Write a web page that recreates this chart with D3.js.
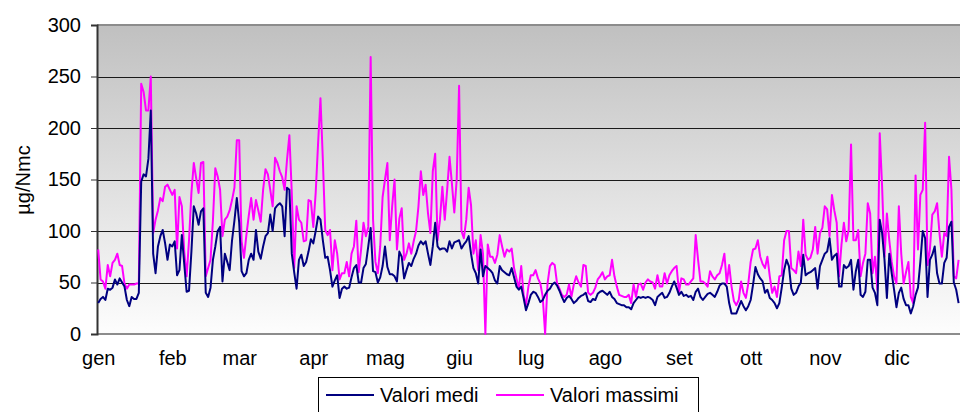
<!DOCTYPE html>
<html><head><meta charset="utf-8">
<script src="https://cdn.jsdelivr.net/npm/d3@7"></script>
<style>body{margin:0;background:#fff}svg{display:block;font-family:Arial,"Liberation Sans",sans-serif}</style>
</head><body><div id="chart"></div>
<script>
const monthLabels = ["gen","feb","mar","apr","mag","giu","lug","ago","set","ott","nov","dic"];
const monthStartDays = [0,31,59,90,120,151,181,212,243,273,304,334];
const daysInYear = 365;
const yTicks = [0,50,100,150,200,250,300];
const seriesNames = ["Valori medi","Valori massimi"];
const seriesColors = ["#000080","#ff00ff"];
// daily values, from 1 January (the visible part of the year)
const valoriMedi = [
30,34,36,33,44,43,45,53,48,54,
50,46,33,27,36,34,34,40,148,155,
153,170,217,78,59,85,95,101,88,72,
87,85,90,57,62,96,68,41,42,80,
124,117,106,119,122,40,36,45,72,
85,100,104,51,78,70,62,91,110,132,
108,61,56,59,72,78,72,101,80,73,
85,95,98,116,100,122,125,127,124,95,
142,140,78,60,44,72,77,66,70,80,
92,88,100,114,111,91,74,75,62,46,
52,57,35,44,46,44,45,55,64,67,
50,50,64,68,85,103,61,60,50,55,
66,85,65,58,58,56,51,80,75,54,
62,69,66,73,78,86,90,87,90,
78,67,85,108,85,82,83,83,80,90,
83,89,90,91,83,87,90,95,78,64,
59,49,82,56,66,64,62,59,52,49,
66,62,60,58,57,64,55,46,43,46,
35,23,30,38,41,40,36,31,33,38,
42,44,48,50,47,42,36,31,35,37,
34,30,32,35,37,38,40,32,31,34,
33,39,41,42,40,38,41,36,34,30,
29,28,28,26,26,24,30,33,36,35,
36,35,36,35,33,28,36,38,40,
35,36,40,46,51,45,38,41,37,38,
36,37,33,41,44,36,33,36,39,40,
38,36,41,47,49,49,46,30,20,20,
20,26,32,27,23,27,33,48,65,58,
54,51,40,43,35,33,30,25,30,45,
62,72,66,44,38,40,46,50,77,57,
59,60,62,64,44,66,72,78,80,93,
72,76,78,46,46,67,64,66,72,
43,61,72,38,36,41,72,72,45,40,
28,111,98,72,35,78,59,43,26,40,
45,34,28,28,20,27,38,45,70,100,
93,36,72,77,85,59,49,49,69,74,
104,109,50,43,30];
const valoriMassimi = [
82,53,51,44,67,56,69,72,78,67,
66,49,44,48,48,48,49,49,243,235,
217,217,250,98,111,120,132,129,143,145,
140,135,140,83,133,124,80,56,91,137,
166,151,137,166,167,56,64,72,110,
161,153,140,95,111,114,120,130,142,188,
188,90,74,96,115,132,111,130,120,109,
140,160,155,140,124,171,166,158,152,140,
169,193,137,64,124,111,108,90,91,130,
129,104,137,185,229,169,101,96,101,62,
91,78,53,59,59,70,56,78,85,110,
60,82,108,95,104,269,111,70,59,85,
133,150,166,91,124,150,82,112,122,72,
78,88,78,90,100,124,158,135,145,
117,98,158,175,91,111,143,111,140,172,
146,118,150,241,100,93,111,142,125,78,
91,62,96,78,0,87,75,75,69,77,
96,85,75,82,80,83,64,54,44,66,
38,28,46,57,57,62,54,49,36,0,
49,66,69,67,49,44,38,36,38,48,
36,48,56,50,46,67,66,40,38,40,
45,53,56,60,53,56,57,72,56,46,
38,37,36,36,38,30,48,36,48,49,
43,50,53,51,50,44,57,46,46,
59,49,57,61,64,66,41,54,53,48,
48,51,54,96,72,51,51,49,46,61,
56,53,57,59,67,78,49,67,46,32,
28,33,51,40,35,49,70,82,83,91,
75,68,64,75,56,40,46,36,56,57,
91,100,100,64,62,59,80,66,111,77,
72,74,82,104,78,98,103,124,121,95,
135,120,108,56,87,108,90,101,184,
91,91,101,56,69,78,127,117,59,75,
43,195,143,75,117,91,70,56,49,124,
78,49,60,70,36,30,154,82,135,140,
205,67,82,116,119,127,98,75,98,95,
172,140,56,54,72];

(function () {
const W = 960, H = 412;
const mL = 97, mT = 25, mB = 334;
const dayW = 2.39;
const mR = mL + daysInYear * dayW;   // plot runs past the right edge of the picture
const svg = d3.select("#chart").append("svg").attr("width", W).attr("height", H);

const x = d3.scaleLinear().domain([-0.5, daysInYear - 0.5]).range([mL, mR]);
const y = d3.scaleLinear().domain([0, 300]).range([mB, mT]);
const FONT = "Arial, 'Liberation Sans', sans-serif";

const defs = svg.append("defs");
const grad = defs.append("linearGradient").attr("id","bg").attr("x1",0).attr("y1",0).attr("x2",0).attr("y2",1);
grad.append("stop").attr("offset","0%").attr("stop-color","#c0c0c0");
grad.append("stop").attr("offset","100%").attr("stop-color","#fdfdfd");
defs.append("clipPath").attr("id","clip").append("rect")
  .attr("x", mL).attr("y", mT - 2).attr("width", mR - mL).attr("height", mB - mT + 4);

svg.append("rect").attr("x", mL).attr("y", mT).attr("width", mR - mL).attr("height", mB - mT)
  .attr("fill", "url(#bg)");

svg.append("g").selectAll("line").data(yTicks.filter(v => v > 0 && v < 300)).join("line")
  .attr("x1", mL).attr("x2", mR).attr("y1", d => Math.round(y(d)) + 0.5).attr("y2", d => Math.round(y(d)) + 0.5)
  .attr("stroke", "#1a1a1a").attr("stroke-width", 1);
svg.append("line").attr("x1", mL).attr("x2", mR).attr("y1", y(300)).attr("y2", y(300))
  .attr("stroke", "#8c8c8c").attr("stroke-width", 2);
svg.append("line").attr("x1", mL).attr("x2", mR).attr("y1", y(0)).attr("y2", y(0))
  .attr("stroke", "#8c8c8c").attr("stroke-width", 2);

const yAxis = d3.axisLeft(y).tickValues(yTicks).tickSize(6).tickPadding(10);
const gy = svg.append("g").attr("transform", `translate(${mL},0)`).call(yAxis);
gy.select(".domain").attr("stroke", "#333").attr("stroke-width", 2);
gy.selectAll(".tick line").attr("stroke", "#333");
gy.selectAll(".tick text").attr("font-size", 20).attr("fill", "#000").attr("font-family", FONT);

const xAxis = d3.axisBottom(x).tickValues(monthStartDays).tickSize(0).tickPadding(17)
  .tickFormat((d, i) => monthLabels[i]);
const gx = svg.append("g").attr("transform", `translate(0,${mB})`).call(xAxis);
gx.select(".domain").remove();
gx.selectAll(".tick text").attr("font-size", 20).attr("fill", "#000").attr("font-family", FONT);

svg.append("text").attr("transform", `translate(30,180) rotate(-90)`).attr("text-anchor", "middle")
  .attr("font-size", 20).attr("font-family", FONT).text("µg/Nmc");

const line = d3.line().x((d, i) => x(i)).y(d => y(d));
const plot = svg.append("g").attr("clip-path", "url(#clip)");
[valoriMassimi, valoriMedi].forEach((s) => {
  const k = s === valoriMedi ? 0 : 1;
  plot.append("path").datum(s).attr("d", line).attr("fill", "none")
    .attr("stroke", seriesColors[k]).attr("stroke-width", 2).attr("stroke-linejoin", "round");
});

const lg = svg.append("g");
lg.append("rect").attr("x", 318.5).attr("y", 377.5).attr("width", 380).attr("height", 50)
  .attr("fill", "#fff").attr("stroke", "#000").attr("stroke-width", 1);
const legX = [326, 496];
seriesNames.forEach((n, k) => {
  lg.append("line").attr("x1", legX[k]).attr("x2", legX[k] + 48).attr("y1", 395).attr("y2", 395)
    .attr("stroke", seriesColors[k]).attr("stroke-width", 2);
  lg.append("text").attr("x", legX[k] + 54).attr("y", 402).attr("font-size", 20).attr("font-family", FONT).text(n);
});
})();
</script></body></html>
